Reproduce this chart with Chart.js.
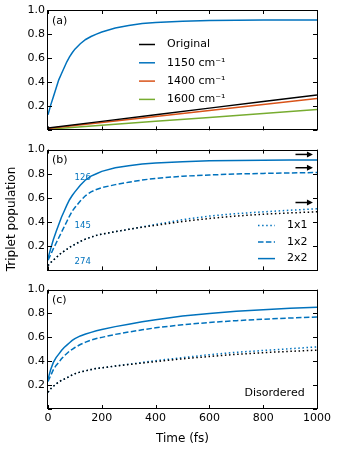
<!DOCTYPE html>
<html><head><meta charset="utf-8">
<script src="https://cdn.jsdelivr.net/npm/chart.js@4"></script>
<style>
body{margin:0;background:#fff;width:337px;height:450px;overflow:hidden;position:relative;font-family:"DejaVu Sans",sans-serif}
canvas{position:absolute;left:0}
</style></head><body>
<canvas id="ca" width="337" height="140" style="top:0px"></canvas>
<canvas id="cb" width="337" height="140" style="top:140px"></canvas>
<canvas id="cc" width="337" height="170" style="top:280px"></canvas>
<script>
// ---------- data ----------
const times = [0,10,20,30,40,50,60,70,80,90,100,120,140,160,180,200,250,300,350,400,500,600,700,800,900,1000];
const timesLin = [0,200,400,600,800,1000];
const xTicks = [0,200,400,600,800,1000];
const yTicks = [0,0.2,0.4,0.6,0.8,1.0];
const yTickLabels = ['','0.2','0.4','0.6','0.8','1.0'];

// panel (a)
const aOriginal = [0.02,0.075,0.13,0.185,0.24,0.294];
const a1400 = [0.015,0.065,0.115,0.165,0.215,0.264];
const a1600 = [0.01,0.043,0.076,0.108,0.141,0.174];
const a1150 = [0.13,0.21,0.28,0.35,0.42,0.47,0.52,0.57,0.61,0.645,0.675,0.72,0.755,0.78,0.80,0.817,0.85,0.872,0.887,0.897,0.907,0.912,0.915,0.916,0.916,0.916];

// panel (b)
const b2x2 = [0.10,0.18,0.255,0.32,0.38,0.44,0.49,0.54,0.585,0.62,0.65,0.705,0.75,0.78,0.80,0.82,0.85,0.867,0.88,0.89,0.90,0.907,0.91,0.912,0.913,0.914];
const b1x2 = [0.085,0.13,0.18,0.225,0.27,0.315,0.36,0.405,0.45,0.49,0.52,0.575,0.62,0.65,0.67,0.685,0.71,0.73,0.748,0.762,0.78,0.79,0.798,0.803,0.807,0.81];
const b1x1 = [0.04,0.065,0.085,0.105,0.125,0.145,0.16,0.175,0.19,0.205,0.215,0.24,0.26,0.275,0.29,0.30,0.32,0.34,0.36,0.38,0.42,0.45,0.47,0.485,0.498,0.51];
const b1x1Ref = [0.04,0.065,0.085,0.105,0.125,0.145,0.16,0.175,0.19,0.205,0.215,0.24,0.26,0.275,0.29,0.30,0.32,0.34,0.358,0.373,0.405,0.43,0.45,0.465,0.476,0.485];
const arrowT = [920,985];
const arrowY = [0.96,0.85,0.562];
const rateLabels = ['126','145','274'];
const rateT = [129,129,129];
const rateY = [0.769,0.369,0.074];

// panel (c)
const c2x2 = [0.25,0.33,0.39,0.43,0.46,0.49,0.515,0.535,0.555,0.575,0.59,0.612,0.628,0.642,0.655,0.665,0.69,0.71,0.73,0.748,0.778,0.80,0.818,0.832,0.844,0.853];
const c1x2 = [0.23,0.28,0.33,0.365,0.39,0.42,0.445,0.465,0.485,0.5,0.515,0.54,0.56,0.577,0.59,0.6,0.625,0.645,0.663,0.68,0.705,0.725,0.74,0.752,0.762,0.77];
const c1x1 = [0.14,0.17,0.19,0.21,0.225,0.24,0.25,0.26,0.275,0.285,0.295,0.31,0.32,0.33,0.34,0.345,0.36,0.375,0.39,0.405,0.43,0.455,0.475,0.49,0.505,0.52];
const c1x1Ref = [0.14,0.17,0.19,0.21,0.225,0.24,0.25,0.26,0.275,0.285,0.295,0.31,0.32,0.33,0.34,0.345,0.36,0.372,0.385,0.397,0.42,0.44,0.458,0.472,0.483,0.493];

// ---------- styles ----------
const BLUE='#0072BD', ORANGE='#D95319', GREEN='#77AC30', BLACK='#000000';
const FONT='"DejaVu Sans", sans-serif';
const DOT=[1.5,2.6], DASH=[5.5,2.4];
const pts=(xs,ys)=>xs.map((t,i)=>({x:t,y:ys[i]}));
const ds=(label,xs,ys,color,dash)=>({label,data:pts(xs,ys),borderColor:color,backgroundColor:color,borderWidth:1.5,borderDash:dash||[],pointRadius:0,fill:false,tension:0,borderCapStyle:'butt'});

// ---------- plugins ----------
const frameTicks={id:'frameTicks',afterDraw(chart){
  const {ctx,chartArea:a,scales:{x,y}}=chart;
  ctx.save();ctx.strokeStyle='#000';ctx.lineWidth=1;ctx.beginPath();
  x.ticks.forEach(t=>{const p=Math.round(x.getPixelForValue(t.value))+0.5;
    ctx.moveTo(p,a.bottom);ctx.lineTo(p,a.bottom-4);ctx.moveTo(p,a.top);ctx.lineTo(p,a.top+4);});
  y.ticks.forEach(t=>{const p=Math.round(y.getPixelForValue(t.value))+0.5;
    ctx.moveTo(a.left,p);ctx.lineTo(a.left+4,p);ctx.moveTo(a.right,p);ctx.lineTo(a.right-4,p);});
  ctx.stroke();
  ctx.strokeRect(Math.round(a.left)-0.5,Math.round(a.top)+0.5,Math.round(a.right-a.left)+1,Math.round(a.bottom-a.top)-1);
  ctx.restore();
}};
const boxLegend={id:'boxLegend',afterDraw(chart,args,o){
  if(!o||!o.items)return;
  const {ctx,chartArea:a}=chart;ctx.save();
  ctx.font='11px '+FONT;ctx.textBaseline='middle';ctx.fillStyle='#000';
  o.items.forEach((di,k)=>{const d=chart.data.datasets[di];const yy=a.top+o.top+k*o.step;
    ctx.strokeStyle=d.borderColor;ctx.lineWidth=d.borderWidth;ctx.setLineDash(d.borderDash);ctx.lineCap='butt';
    ctx.beginPath();ctx.moveTo(a.left+o.x0,yy);ctx.lineTo(a.left+o.x1,yy);ctx.stroke();
    ctx.setLineDash([]);ctx.fillText(d.label,a.left+o.xt,yy);});
  ctx.restore();
}};
const notes={id:'notes',afterDraw(chart,args,o){
  if(!o||!o.list)return;
  const {ctx,scales:{x,y}}=chart;ctx.save();ctx.textBaseline='middle';
  o.list.forEach(n=>{ctx.font=n.size+'px '+FONT;ctx.fillStyle=n.color||'#000';ctx.textAlign=n.align||'left';
    ctx.fillText(n.text,x.getPixelForValue(n.t),y.getPixelForValue(n.v));});
  if(o.arrows){ctx.strokeStyle='#000';ctx.fillStyle='#000';ctx.lineWidth=1.5;
    o.arrows.ys.forEach(v=>{const x0=x.getPixelForValue(o.arrows.t[0]),x1=x.getPixelForValue(o.arrows.t[1]),py=y.getPixelForValue(v);
      ctx.beginPath();ctx.moveTo(x0,py);ctx.lineTo(x1-4,py);ctx.stroke();
      ctx.beginPath();ctx.moveTo(x1,py);ctx.lineTo(x1-6,py-3);ctx.lineTo(x1-6,py+3);ctx.closePath();ctx.fill();});}
  if(o.ytitle){ctx.font='12px '+FONT;ctx.fillStyle='#000';ctx.textAlign='center';ctx.translate(o.ytitle.x,(chart.chartArea.top+chart.chartArea.bottom)/2+o.ytitle.dy);
    ctx.rotate(-Math.PI/2);ctx.fillText(o.ytitle.text,0,0);}
  ctx.restore();
}};

function makeChart(id,datasets,cfg){
  return new Chart(document.getElementById(id),{
    type:'line',data:{datasets},
    plugins:[frameTicks,boxLegend,notes],
    options:{responsive:false,animation:false,devicePixelRatio:1,
      layout:{padding:{left:0,right:20,top:cfg.padTop,bottom:cfg.padBottom}},
      plugins:{legend:{display:false},tooltip:{enabled:false},boxLegend:cfg.legend||{},notes:cfg.notes||{}},
      scales:{
        x:{type:'linear',min:0,max:1000,
          afterBuildTicks:s=>{s.ticks=xTicks.map(v=>({value:v}));},
          afterFit:s=>{s.height=cfg.xH;},
          grid:{display:false,drawTicks:false},border:{display:false},
          ticks:{display:cfg.showX,padding:3,color:'#000',font:{family:FONT,size:11},maxRotation:0,callback:v=>String(v)},
          title:{display:cfg.showX,text:'Time (fs)',color:'#000',font:{family:FONT,size:12},padding:{top:2,bottom:0}}},
        y:{type:'linear',min:0,max:1,
          afterBuildTicks:s=>{s.ticks=yTicks.map(v=>({value:v}));},
          afterFit:s=>{s.width=48;},
          grid:{display:false,drawTicks:false},border:{display:false},
          ticks:{padding:3,color:'#000',font:{family:FONT,size:11},callback:(v,i)=>yTickLabels[i]}}
      }}
  });
}

makeChart('ca',[
  ds('Original',timesLin,aOriginal,BLACK),
  ds('1150 cm\u207B\u00B9',times,a1150,BLUE),
  ds('1400 cm\u207B\u00B9',timesLin,a1400,ORANGE),
  ds('1600 cm\u207B\u00B9',timesLin,a1600,GREEN)
],{padTop:10,padBottom:5,xH:0,showX:false,
  legend:{items:[0,1,2,3],x0:91,x1:107,xt:119,top:34.5,step:18.3},
  notes:{list:[{text:'(a)',t:15,v:0.905,size:11}]}});

makeChart('cb',[
  ds('',times,b1x1Ref,BLACK,DOT),
  ds('1x1',times,b1x1,BLUE,DOT),
  ds('1x2',times,b1x2,BLUE,DASH),
  ds('2x2',times,b2x2,BLUE)
],{padTop:7,padBottom:9,xH:0,showX:false,
  legend:{items:[1,2,3],x0:210,x1:227,xt:239,top:76,step:16.5},
  notes:{list:[{text:'(b)',t:15,v:0.915,size:11},
    ...rateLabels.map((s,i)=>({text:s,t:rateT[i],v:rateY[i],size:8.5,color:BLUE,align:'center'}))],
    arrows:{t:arrowT,ys:arrowY},
    ytitle:{text:'Triplet population',x:11.5,dy:9}}});

makeChart('cc',[
  ds('',times,c1x1Ref,BLACK,DOT),
  ds('1x1',times,c1x1,BLUE,DOT),
  ds('1x2',times,c1x2,BLUE,DASH),
  ds('2x2',times,c2x2,BLUE)
],{padTop:4,padBottom:4,xH:37,showX:true,
  notes:{list:[{text:'(c)',t:15,v:0.91,size:11},{text:'Disordered',t:954,v:0.134,size:11,align:'right'}]}});
</script>
</body></html>
